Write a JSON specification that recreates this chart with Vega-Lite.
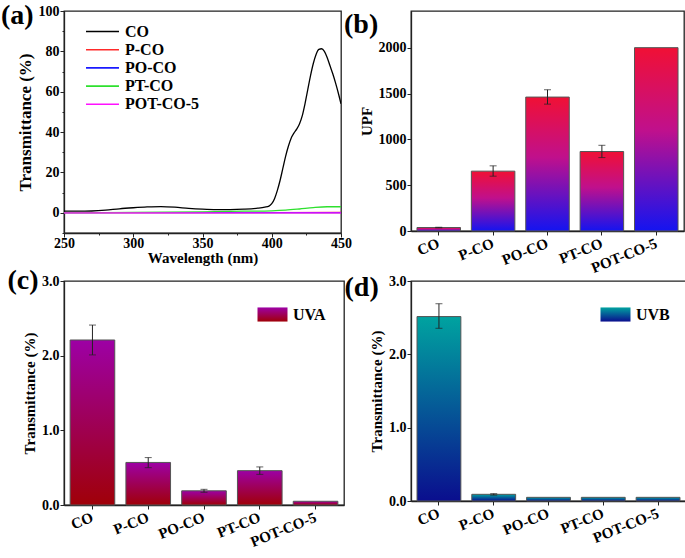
{
  "$schema": "https://vega.github.io/schema/vega-lite/v6.json",
  "padding": {"left": 0, "top": 1, "right": 0, "bottom": 0},
  "background": "white",
  "columns": 2,
  "spacing": {"column": -10, "row": -11},
  "resolve": {"scale": {"color": "independent", "opacity": "independent", "x": "independent", "y": "independent"}, "legend": {"color": "independent", "opacity": "independent"}},
  "config": {
    "font": "Liberation Serif",
    "view": {"stroke": "#222", "strokeWidth": 1.3},
    "axis": {
      "labelFont": "Liberation Serif", "labelFontWeight": "bold", "labelFontSize": 14, "labelColor": "black",
      "titleFont": "Liberation Serif", "titleFontWeight": "bold", "titleFontSize": 15, "titleColor": "black",
      "domainColor": "#222", "domainWidth": 1.3, "tickColor": "#222", "tickWidth": 1, "grid": false,
      "labelPadding": 1, "titlePadding": 4
    },
    "axisBand": {"labelAngle": -22, "labelAlign": "right", "labelBaseline": "middle", "labelPadding": 7, "labelFontSize": 15, "tickSize": 4},
    "legend": {"labelFont": "Liberation Serif", "labelFontWeight": "bold", "labelFontSize": 16, "labelColor": "black", "padding": 0},
    "title": {"font": "Liberation Serif", "fontWeight": "bold", "fontSize": 28, "color": "black", "anchor": "start", "frame": "bounds", "baseline": "top"}
  },
  "datasets": {
    "spectra": [
      {"s": "CO", "w": 250, "t": 0.8}, {"s": "CO", "w": 260, "t": 0.8}, {"s": "CO", "w": 270, "t": 0.9}, {"s": "CO", "w": 280, "t": 1.3},
      {"s": "CO", "w": 290, "t": 2.0}, {"s": "CO", "w": 300, "t": 2.5}, {"s": "CO", "w": 310, "t": 2.9}, {"s": "CO", "w": 320, "t": 3.1},
      {"s": "CO", "w": 330, "t": 2.8}, {"s": "CO", "w": 340, "t": 2.2}, {"s": "CO", "w": 350, "t": 1.8}, {"s": "CO", "w": 360, "t": 1.6},
      {"s": "CO", "w": 370, "t": 1.6}, {"s": "CO", "w": 380, "t": 1.8}, {"s": "CO", "w": 390, "t": 2.3}, {"s": "CO", "w": 395, "t": 2.8},
      {"s": "CO", "w": 398, "t": 3.3}, {"s": "CO", "w": 400, "t": 4.5}, {"s": "CO", "w": 402, "t": 7}, {"s": "CO", "w": 404, "t": 11},
      {"s": "CO", "w": 406, "t": 16}, {"s": "CO", "w": 408, "t": 22}, {"s": "CO", "w": 410, "t": 28}, {"s": "CO", "w": 412, "t": 33},
      {"s": "CO", "w": 414, "t": 37}, {"s": "CO", "w": 416, "t": 39.5}, {"s": "CO", "w": 418, "t": 41.5}, {"s": "CO", "w": 420, "t": 44},
      {"s": "CO", "w": 422, "t": 48}, {"s": "CO", "w": 424, "t": 54}, {"s": "CO", "w": 426, "t": 61}, {"s": "CO", "w": 428, "t": 68},
      {"s": "CO", "w": 430, "t": 74}, {"s": "CO", "w": 432, "t": 78.5}, {"s": "CO", "w": 434, "t": 81}, {"s": "CO", "w": 436, "t": 81.3},
      {"s": "CO", "w": 438, "t": 80}, {"s": "CO", "w": 440, "t": 77}, {"s": "CO", "w": 442, "t": 73}, {"s": "CO", "w": 444, "t": 69},
      {"s": "CO", "w": 446, "t": 64.5}, {"s": "CO", "w": 448, "t": 59.5}, {"s": "CO", "w": 450, "t": 54},
      {"s": "P-CO", "w": 250, "t": 0.1}, {"s": "P-CO", "w": 350, "t": 0.1}, {"s": "P-CO", "w": 450, "t": 0.15},
      {"s": "PO-CO", "w": 250, "t": 0.05}, {"s": "PO-CO", "w": 350, "t": 0.05}, {"s": "PO-CO", "w": 450, "t": 0.05},
      {"s": "PT-CO", "w": 250, "t": 0.1}, {"s": "PT-CO", "w": 300, "t": 0.2}, {"s": "PT-CO", "w": 350, "t": 0.5}, {"s": "PT-CO", "w": 380, "t": 0.8},
      {"s": "PT-CO", "w": 400, "t": 1.0}, {"s": "PT-CO", "w": 410, "t": 1.3}, {"s": "PT-CO", "w": 420, "t": 1.9}, {"s": "PT-CO", "w": 430, "t": 2.6},
      {"s": "PT-CO", "w": 440, "t": 3.0}, {"s": "PT-CO", "w": 450, "t": 3.0},
      {"s": "POT-CO-5", "w": 250, "t": 0}, {"s": "POT-CO-5", "w": 350, "t": 0}, {"s": "POT-CO-5", "w": 450, "t": 0}
    ],
    "upf": [
      {"s": "CO", "v": 38, "lo": 35, "hi": 41},
      {"s": "P-CO", "v": 653, "lo": 598, "hi": 711},
      {"s": "PO-CO", "v": 1461, "lo": 1384, "hi": 1541},
      {"s": "PT-CO", "v": 867, "lo": 801, "hi": 935},
      {"s": "POT-CO-5", "v": 2000, "lo": 2000, "hi": 2000}
    ],
    "uva": [
      {"s": "CO", "v": 2.21, "lo": 2.01, "hi": 2.41, "band": "UVA"},
      {"s": "P-CO", "v": 0.57, "lo": 0.50, "hi": 0.635, "band": "UVA"},
      {"s": "PO-CO", "v": 0.19, "lo": 0.17, "hi": 0.21, "band": "UVA"},
      {"s": "PT-CO", "v": 0.46, "lo": 0.41, "hi": 0.51, "band": "UVA"},
      {"s": "POT-CO-5", "v": 0.05, "lo": 0.05, "hi": 0.05, "band": "UVA"}
    ],
    "uvb": [
      {"s": "CO", "v": 2.515, "lo": 2.355, "hi": 2.69, "band": "UVB"},
      {"s": "P-CO", "v": 0.091, "lo": 0.08, "hi": 0.1, "band": "UVB"},
      {"s": "PO-CO", "v": 0.05, "lo": 0.05, "hi": 0.05, "band": "UVB"},
      {"s": "PT-CO", "v": 0.05, "lo": 0.05, "hi": 0.05, "band": "UVB"},
      {"s": "POT-CO-5", "v": 0.05, "lo": 0.05, "hi": 0.05, "band": "UVB"}
    ]
  },
  "concat": [
    {
      "width": 277, "height": 222,
      "title": {"text": "(a)", "offset": -26, "dx": -15},
      "data": {"name": "spectra"},
      "mark": {"type": "line", "interpolate": "monotone", "strokeWidth": 1.3, "clip": true},
      "encoding": {
        "x": {"field": "w", "type": "quantitative", "scale": {"domain": [250, 450], "nice": false},
          "axis": {"title": "Wavelength (nm)", "titleFontSize": 15, "titlePadding": 0, "labelPadding": -1, "labelFlush": false, "labelOverlap": false,
            "values": [250, 275, 300, 325, 350, 375, 400, 425, 450],
            "labelExpr": "datum.value % 50 === 0 ? datum.label : ''",
            "tickSize": {"condition": {"test": "datum.value % 50 === 0", "value": 4}, "value": 2}}},
        "y": {"field": "t", "type": "quantitative", "scale": {"domain": [-10, 100], "nice": false},
          "axis": {"title": "Transmittance (%)", "titleFontSize": 17, "labelOverlap": false,
            "values": [-10, 0, 10, 20, 30, 40, 50, 60, 70, 80, 90, 100],
            "labelExpr": "datum.value % 20 === 0 ? datum.label : ''",
            "tickSize": {"condition": {"test": "datum.value % 20 === 0", "value": 4}, "value": 2}}},
        "color": {"field": "s", "type": "nominal",
          "scale": {"domain": ["CO", "P-CO", "PO-CO", "PT-CO", "POT-CO-5"], "range": ["#000000", "#ff2a2a", "#1a1aff", "#2ee02e", "#ff10ff"]},
          "legend": {"title": null, "orient": "none", "legendX": 29, "legendY": 11, "symbolType": "M-2,0H2", "symbolSize": 272,
            "symbolStrokeWidth": 1.6, "rowPadding": 0.2, "labelOffset": 13}}
      }
    },
    {
      "width": 273, "height": 220,
      "title": {"text": "(b)", "offset": -28, "dx": -15},
      "data": {"name": "upf"},
      "layer": [
        {
          "mark": {"type": "bar", "stroke": "#555", "strokeWidth": 1,
            "fill": {"gradient": "linear", "x1": 0, "y1": 0, "x2": 0, "y2": 1,
              "stops": [{"offset": 0, "color": "#f01035"}, {"offset": 0.45, "color": "#c0108c"}, {"offset": 1, "color": "#1414f0"}]}},
          "encoding": {
            "x": {"field": "s", "type": "nominal", "sort": null, "scale": {"paddingInner": 0.2, "paddingOuter": 0.11},
              "axis": {"title": null}},
            "y": {"field": "v", "type": "quantitative", "scale": {"domain": [0, 2400], "nice": false},
              "axis": {"title": "UPF", "values": [0, 250, 500, 750, 1000, 1250, 1500, 1750, 2000, 2250],
                "labelExpr": "datum.value % 500 === 0 ? datum.label : ''", "format": "d",
                "tickSize": {"condition": {"test": "datum.value % 500 === 0", "value": 4}, "value": 2}}}
          }
        },
        {
          "transform": [{"filter": "datum.hi > datum.lo"}],
          "mark": {"type": "errorbar", "ticks": {"size": 7}, "color": "#222", "thickness": 1},
          "encoding": {
            "x": {"field": "s", "type": "nominal", "sort": null},
            "y": {"field": "lo", "type": "quantitative", "title": "UPF"},
            "y2": {"field": "hi"}
          }
        }
      ]
    },
    {
      "width": 280, "height": 224,
      "title": {"text": "(c)", "offset": -21, "dx": -15},
      "data": {"name": "uva"},
      "layer": [
        {
          "mark": {"type": "bar", "stroke": "#555", "strokeWidth": 1,
            "fill": {"gradient": "linear", "x1": 0, "y1": 0, "x2": 0, "y2": 1,
              "stops": [{"offset": 0, "color": "#9d00a5"}, {"offset": 1, "color": "#a00008"}]}},
          "encoding": {
            "x": {"field": "s", "type": "nominal", "sort": null, "scale": {"paddingInner": 0.2, "paddingOuter": 0.11},
              "axis": {"title": null}},
            "y": {"field": "v", "type": "quantitative", "scale": {"domain": [0, 3], "nice": false},
              "axis": {"title": "Transmittance (%)", "values": [0, 0.25, 0.5, 0.75, 1, 1.25, 1.5, 1.75, 2, 2.25, 2.5, 2.75, 3],
                "format": ".1f", "labelExpr": "datum.value % 0.5 === 0 ? datum.label : ''",
                "tickSize": {"condition": {"test": "datum.value % 0.5 === 0", "value": 4}, "value": 2}}},
            "opacity": {"field": "band", "type": "nominal",
              "scale": {"domain": ["UVA"], "range": [1]},
              "legend": {"title": null, "orient": "none", "legendX": 193, "legendY": 18, "symbolType": "M-1,-0.47H1V0.47H-1Z",
                "symbolSize": 900, "symbolStrokeColor": "#555", "symbolStrokeWidth": 1, "labelOffset": 5,
                "encode": {"symbols": {"update": {"fill": {"value": {"gradient": "linear", "x1": 0, "y1": 0, "x2": 0, "y2": 1,
                  "stops": [{"offset": 0, "color": "#9d00a5"}, {"offset": 1, "color": "#a00008"}]}}, "stroke": {"value": "#555"}}}}}}
          }
        },
        {
          "transform": [{"filter": "datum.hi > datum.lo"}],
          "mark": {"type": "errorbar", "ticks": {"size": 7}, "color": "#222", "thickness": 1},
          "encoding": {
            "x": {"field": "s", "type": "nominal", "sort": null},
            "y": {"field": "lo", "type": "quantitative", "title": "Transmittance (%)"},
            "y2": {"field": "hi"}
          }
        }
      ]
    },
    {
      "width": 275, "height": 220,
      "title": {"text": "(d)", "offset": -28, "dx": -25},
      "data": {"name": "uvb"},
      "layer": [
        {
          "mark": {"type": "bar", "stroke": "#555", "strokeWidth": 1,
            "fill": {"gradient": "linear", "x1": 0, "y1": 0, "x2": 0, "y2": 1,
              "stops": [{"offset": 0, "color": "#00a3a0"}, {"offset": 1, "color": "#0a0e8e"}]}},
          "encoding": {
            "x": {"field": "s", "type": "nominal", "sort": null, "scale": {"paddingInner": 0.2, "paddingOuter": 0.11},
              "axis": {"title": null}},
            "y": {"field": "v", "type": "quantitative", "scale": {"domain": [0, 3], "nice": false},
              "axis": {"title": "Transmittance (%)", "values": [0, 0.25, 0.5, 0.75, 1, 1.25, 1.5, 1.75, 2, 2.25, 2.5, 2.75, 3],
                "format": ".1f", "labelExpr": "datum.value % 0.5 === 0 ? datum.label : ''",
                "tickSize": {"condition": {"test": "datum.value % 0.5 === 0", "value": 4}, "value": 2}}},
            "opacity": {"field": "band", "type": "nominal",
              "scale": {"domain": ["UVB"], "range": [1]},
              "legend": {"title": null, "orient": "none", "legendX": 189, "legendY": 18, "symbolType": "M-1,-0.47H1V0.47H-1Z",
                "symbolSize": 900, "symbolStrokeColor": "#555", "symbolStrokeWidth": 1, "labelOffset": 5,
                "encode": {"symbols": {"update": {"fill": {"value": {"gradient": "linear", "x1": 0, "y1": 0, "x2": 0, "y2": 1,
                  "stops": [{"offset": 0, "color": "#00a3a0"}, {"offset": 1, "color": "#0a0e8e"}]}}, "stroke": {"value": "#555"}}}}}}
          }
        },
        {
          "transform": [{"filter": "datum.hi > datum.lo"}],
          "mark": {"type": "errorbar", "ticks": {"size": 7}, "color": "#222", "thickness": 1},
          "encoding": {
            "x": {"field": "s", "type": "nominal", "sort": null},
            "y": {"field": "lo", "type": "quantitative", "title": "Transmittance (%)"},
            "y2": {"field": "hi"}
          }
        }
      ]
    }
  ]
}
